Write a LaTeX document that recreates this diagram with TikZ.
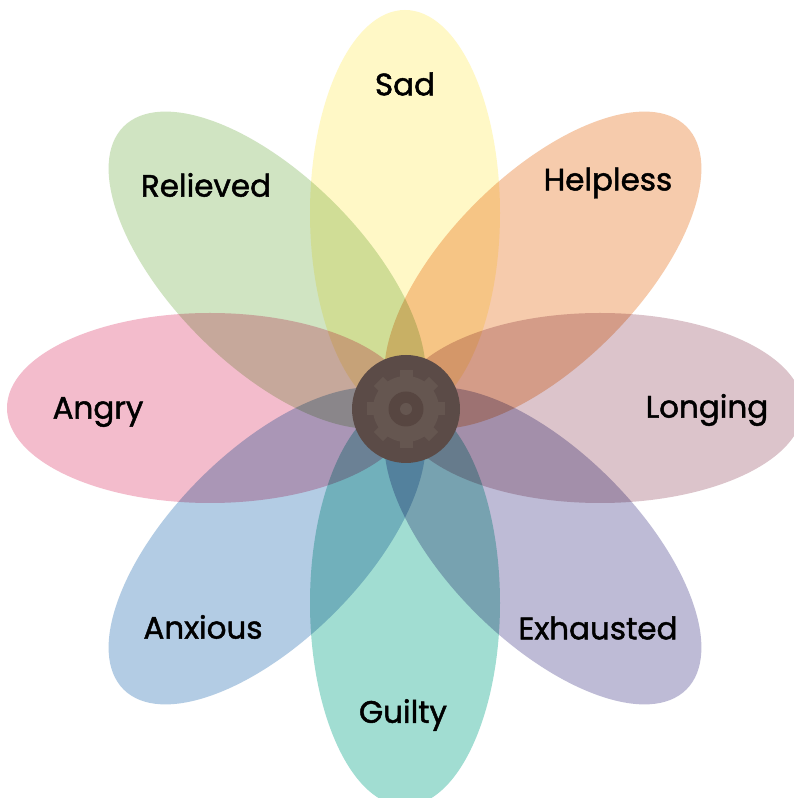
\documentclass[tikz,border=0pt]{standalone}
\usepackage{fontspec}
\setmainfont{Poppins}
\newfontfamily\lblfont{Poppins}[FakeBold=1.5]
\definecolor{csad}{RGB}{255,248,198}
\definecolor{chelpless}{RGB}{246,203,172}
\definecolor{clonging}{RGB}{220,196,203}
\definecolor{cexhausted}{RGB}{190,187,214}
\definecolor{cguilty}{RGB}{161,221,210}
\definecolor{canxious}{RGB}{179,204,228}
\definecolor{cangry}{RGB}{243,188,204}
\definecolor{crelieved}{RGB}{208,228,194}
\definecolor{chub}{RGB}{91,75,71}
\definecolor{cgear}{RGB}{101,86,80}
\definecolor{cring}{RGB}{87,70,65}
\tikzset{
  petal/.style={fill=#1, blend mode=multiply},
  lbl/.style={font=\lblfont\fontsize{31}{34}\selectfont, text=black, inner sep=0pt},
}
\begin{document}
\begin{tikzpicture}[x=1pt,y=1pt]
\fill[white] (0,0) rectangle (794,798);
\useasboundingbox (0,0) rectangle (794,798);
\coordinate (C) at (405,390);
\foreach \ang/\col in {90/csad,45/chelpless,0/clonging,-45/cexhausted,-90/cguilty,-135/canxious,180/cangry,135/crelieved}{
  \begin{scope}[shift={(C)}, rotate=\ang]
    \fill[petal=\col] (195pt,0pt) ellipse [x radius=203pt, y radius=95pt];
  \end{scope}
}
% hub
\node[circle, fill=chub, minimum size=108pt, inner sep=0pt] (hub) at (406,389) {};
\begin{scope}[shift={(hub.center)}]
  \fill[cgear] (0,0) circle (33pt);
  \foreach \a in {0,45,...,315}{
    \fill[cgear, rotate=\a] (-6.5pt,28pt) rectangle (6.5pt,39pt);
  }
  \fill[cring] (0,0) circle (17.5pt);
  \fill[cgear] (0,0) circle (6pt);
\end{scope}
% labels
\node[lbl] (sad) at (405,714) {Sad};
\node[lbl] (helpless) at (608,615) {Helpless};
\node[lbl] (longing) at (707,388) {Longing};
\node[lbl] (exhausted) at (598,170) {Exhausted};
\node[lbl] (guilty) at (403,83) {Guilty};
\node[lbl] (anxious) at (203,171) {Anxious};
\node[lbl] (angry) at (98,386) {Angry};
\node[lbl] (relieved) at (206,613) {Relieved};
\end{tikzpicture}
\end{document}
